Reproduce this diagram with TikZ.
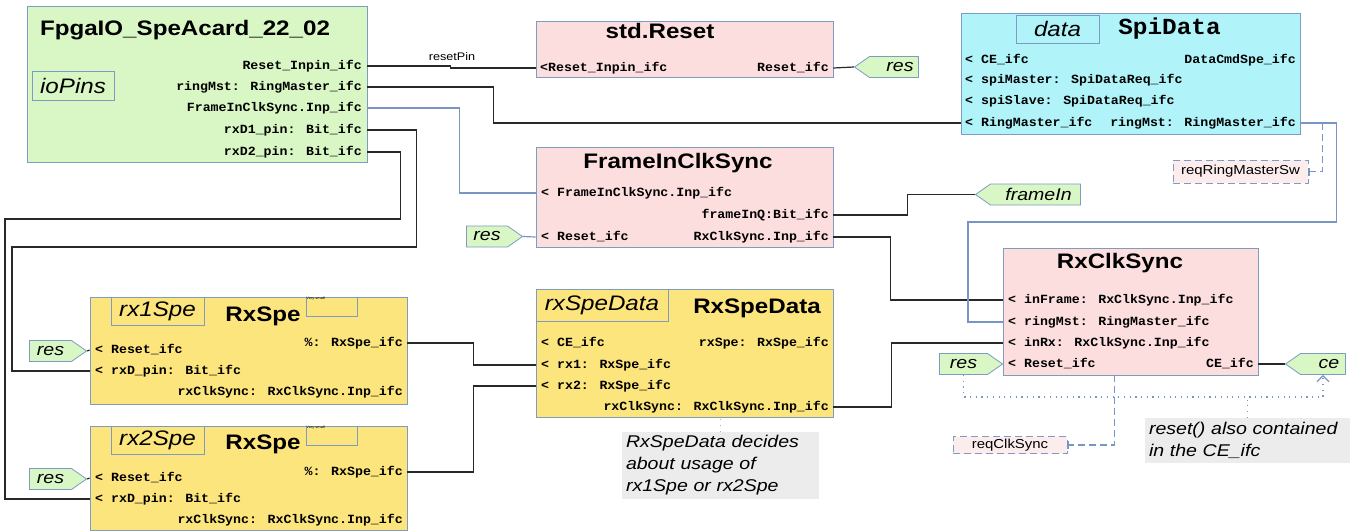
\documentclass[tikz,border=0pt]{standalone}
\usepackage{fontspec}
\setmainfont{Liberation Sans}[FakeStretch=1.15]
\newfontfamily\monofam{Liberation Mono}[FakeStretch=1.06]
\usetikzlibrary{shapes.symbols,arrows.meta}
\definecolor{bordc}{RGB}{125,155,195}
\definecolor{wirec}{RGB}{40,40,40}
\definecolor{bluec}{RGB}{120,150,195}
\definecolor{greenc}{RGB}{217,247,196}
\definecolor{pinkc}{RGB}{252,222,223}
\definecolor{cyanc}{RGB}{176,244,250}
\definecolor{yellowc}{RGB}{253,229,125}
\definecolor{notec}{RGB}{236,236,236}
\definecolor{reqc}{RGB}{252,236,236}
\newcommand\portfnt{\monofam\bfseries\fontsize{12.5}{14}\selectfont}
\begin{document}
\begin{tikzpicture}[x=1pt, y=-1pt,
  blk/.style={draw=bordc, line width=0.8pt, inner sep=0pt},
  namebox/.style={draw=bordc, line width=0.8pt, inner sep=0pt, font=\itshape\fontsize{21}{24}\selectfont},
  ttl/.style={inner sep=0pt, font=\bfseries\fontsize{21}{24}\selectfont},
  portlbl/.style={inner sep=0pt, font=\portfnt, text height=8.5pt, text depth=2pt},
  portl/.style={portlbl, anchor=west},
  portr/.style={portlbl, anchor=east},
  tag/.style={shape=signal, draw=bordc, fill=greenc, line width=0.8pt, inner sep=0pt, signal pointer angle=70, font=\itshape\fontsize{17}{20}\selectfont, minimum height=21pt},
  tagE/.style={tag, signal to=east},
  tagW/.style={tag, signal to=west},
  wire/.style={draw=wirec, line width=1.2pt},
  bwire/.style={draw=bluec, line width=1.2pt},
  longdash/.style={dash pattern=on 7pt off 4pt},
  dots/.style={line width=1.2pt, dash pattern=on 1.2pt off 4.5pt},
  req/.style={draw=bordc, dash pattern=on 7pt off 4pt, fill=reqc, line width=0.8pt, inner sep=0pt, font=\fontsize{13}{15}\selectfont},
  note/.style={fill=notec, inner xsep=4pt, inner ysep=0pt, align=left, font=\itshape\fontsize{17}{22}\selectfont}]
\useasboundingbox (0,0) rectangle (1354,531);

\node[blk, fill=greenc, minimum width=340pt, minimum height=156pt] (fpga) at (197,84) {};
\node[ttl] (fpgaTtl) at (185,30) {FpgaIO\_SpeAcard\_22\_02};
\node[namebox, minimum width=82pt, minimum height=29pt] (ioPins) at (73,85.5) {ioPins};
\node[portr] (fpgaReset) at (362,66) {Reset\_Inpin\_ifc};
\node[portr] (fpgaRing) at (362,87) {ringMst: RingMaster\_ifc};
\node[portr] (fpgaFrame) at (362,108) {FrameInClkSync.Inp\_ifc};
\node[portr] (fpgaRxdA) at (362,130) {rxD1\_pin: Bit\_ifc};
\node[portr] (fpgaRxdB) at (362,152) {rxD2\_pin: Bit\_ifc};

\node[blk, fill=pinkc, minimum width=297pt, minimum height=56pt] (std) at (684.5,49) {};
\node[ttl] (stdTtl) at (660,31) {std.Reset};
\node[portl] (stdIn) at (540,68) {<Reset\_Inpin\_ifc};
\node[portr] (stdOut) at (829,68) {Reset\_ifc};
\node[tagW, minimum width=64pt] (resStd) at (894,67) {\hspace{12pt}res};
\node[inner sep=0pt, font=\fontsize{11}{13}\selectfont] (resetPinLbl) at (452,57) {resetPin};

\node[blk, fill=cyanc, minimum width=339pt, minimum height=121pt] (spi) at (1130.5,73.5) {};
\node[namebox, minimum width=83pt, minimum height=28pt] (spiName) at (1057.5,29) {data};
\node[inner sep=0pt, font=\monofam\bfseries\fontsize{23}{26}\selectfont] (spiTtl) at (1169.5,29) {SpiData};
\node[portl] (spiCe) at (965,60) {< CE\_ifc};
\node[portr] (spiCmd) at (1296,60) {DataCmdSpe\_ifc};
\node[portl] (spiMst) at (965,80) {< spiMaster: SpiDataReq\_ifc};
\node[portl] (spiSlv) at (965,101) {< spiSlave: SpiDataReq\_ifc};
\node[portl] (spiRingIn) at (965,123) {< RingMaster\_ifc};
\node[portr] (spiRingOut) at (1296,123) {ringMst: RingMaster\_ifc};
\node[req, minimum width=135pt, minimum height=23pt] (reqRing) at (1240.5,171.5) {reqRingMasterSw};

\node[blk, fill=pinkc, minimum width=297pt, minimum height=100pt] (fic) at (684.5,197) {};
\node[ttl] (ficTtl) at (678,163) {FrameInClkSync};
\node[portl] (ficIn) at (541,193) {< FrameInClkSync.Inp\_ifc};
\node[portr] (ficQ) at (829,215) {frameInQ:Bit\_ifc};
\node[portl] (ficReset) at (541,237) {< Reset\_ifc};
\node[portr] (ficOut) at (829,237) {RxClkSync.Inp\_ifc};
\node[tagE, minimum width=56pt] (resFic) at (487,236.5) {res\hspace{8pt}};
\node[tagW, minimum width=105pt] (frameInTag) at (1035.5,194.5) {\hspace{6pt}frameIn};

\node[blk, fill=pinkc, minimum width=255pt, minimum height=127pt] (rxc) at (1130.5,311.5) {};
\node[ttl] (rxcTtl) at (1120,263) {RxClkSync};
\node[portl] (rxcFrame) at (1008,300) {< inFrame: RxClkSync.Inp\_ifc};
\node[portl] (rxcRing) at (1008,322) {< ringMst: RingMaster\_ifc};
\node[portl] (rxcRx) at (1008,343) {< inRx: RxClkSync.Inp\_ifc};
\node[portl] (rxcReset) at (1008,364) {< Reset\_ifc};
\node[portr] (rxcCe) at (1254,364) {CE\_ifc};
\node[tagE, minimum width=63pt] (resRxc) at (963.5,364) {res\hspace{10pt}};
\node[tagW, minimum width=60pt] (ceTag) at (1323,364) {\hspace{12pt}ce};
\node[req, minimum width=114pt, minimum height=17pt] (reqClk) at (1010,445) {reqClkSync\hspace{14pt}};
\node[note, text width=197pt, minimum height=45pt] (noteCe) at (1247.5,440.5) {reset() also contained\\in the CE\_ifc};

\node[blk, fill=yellowc, minimum width=297pt, minimum height=128pt] (rsd) at (684.5,353) {};
\node[namebox, minimum width=132pt, minimum height=32pt] (rsdName) at (602,305) {rxSpeData};
\node[ttl] (rsdTtl) at (757,308) {RxSpeData};
\node[portl] (rsdCe) at (541,343) {< CE\_ifc};
\node[portr] (rsdOut) at (829,343) {rxSpe: RxSpe\_ifc};
\node[portl] (rsdRxA) at (541,365) {< rx1: RxSpe\_ifc};
\node[portl] (rsdRxB) at (541,386) {< rx2: RxSpe\_ifc};
\node[portr] (rsdClk) at (829,407) {rxClkSync: RxClkSync.Inp\_ifc};
\node[note, text width=189pt, minimum height=67pt] (noteRsd) at (720.5,465.5) {RxSpeData decides\\about usage of\\rx1Spe or rx2Spe};

\node[blk, fill=yellowc, minimum width=317pt, minimum height=107pt] (rxa) at (248.5,350.5) {};
\node[namebox, minimum width=93pt, minimum height=28pt] (rxaName) at (157.5,311) {rx1Spe};
\node[ttl] (rxaTtl) at (263,316) {RxSpe};
\node[blk, minimum width=51pt, minimum height=19pt] (rxaSmall) at (331.5,306.5) {};
\node[anchor=north west, inner sep=0.5pt, font=\fontsize{3.5}{4}\selectfont] (rxaSmallTxt) at (rxaSmall.north west) {Very small};
\node[portr] (rxaOut) at (403,343) {\%: RxSpe\_ifc};
\node[portl] (rxaReset) at (95,350) {< Reset\_ifc};
\node[portl] (rxaRxd) at (95,371) {< rxD\_pin: Bit\_ifc};
\node[portr] (rxaClk) at (403,392) {rxClkSync: RxClkSync.Inp\_ifc};
\node[tagE, minimum width=57pt] (resRxa) at (50.5,351) {res\hspace{10pt}};

\node[blk, fill=yellowc, minimum width=317pt, minimum height=104pt] (rxb) at (248.5,478.5) {};
\node[namebox, minimum width=93pt, minimum height=28pt] (rxbName) at (157.5,440) {rx2Spe};
\node[ttl] (rxbTtl) at (263,444) {RxSpe};
\node[blk, minimum width=51pt, minimum height=19pt] (rxbSmall) at (331.5,435.5) {};
\node[anchor=north west, inner sep=0.5pt, font=\fontsize{3.5}{4}\selectfont] (rxbSmallTxt) at (rxbSmall.north west) {Very small};
\node[portr] (rxbOut) at (403,472) {\%: RxSpe\_ifc};
\node[portl] (rxbReset) at (95,478) {< Reset\_ifc};
\node[portl] (rxbRxd) at (95,499) {< rxD\_pin: Bit\_ifc};
\node[portr] (rxbClk) at (403,520) {rxClkSync: RxClkSync.Inp\_ifc};
\node[tagE, minimum width=57pt] (resRxb) at (50.5,479) {res\hspace{10pt}};

\draw[wire] (fpga.east |- fpgaReset) -- ++(83,0) |- (std.west |- stdIn);
\draw[wire] (std.east |- stdOut) -- (resStd.west);
\draw[wire] (fpga.east |- fpgaRing) -- ++(126,0) |- (spi.west |- spiRingIn);
\draw[bwire] (fpga.east |- fpgaFrame) -- ++(92,0) |- (fic.west |- ficIn);
\draw[wire] (fpga.east |- fpgaRxdA) -- ++(49,0) |- (12,247) |- (rxa.west |- rxaRxd);
\draw[wire] (fpga.east |- fpgaRxdB) -- ++(33,0) |- (5,219) |- (rxb.west |- rxbRxd);
\draw[bwire] (resFic.east) -- (fic.west |- ficReset);
\draw[wire] (fic.east |- ficQ) -- ++(74,0) |- (frameInTag.west);
\draw[wire] (fic.east |- ficOut) -- ++(57,0) |- (rxc.west |- rxcFrame);
\draw[bwire] (spi.east |- spiRingOut) -- ++(36,0) |- (968,222) |- (rxc.west |- rxcRing);
\draw[bwire, longdash, -{Bar[width=8pt]}] (spi.east |- spiRingOut) ++(22,0) |- (reqRing.east);
\draw[wire] (rsd.east |- rsdClk) -- ++(58,0) |- (rxc.west |- rxcRx);
\draw[bwire] (resRxc.east) -- (rxc.west |- rxcReset);
\draw[wire] (rxc.east |- rxcCe) -- (ceTag.west);
\draw[bwire, dots, -{Straight Barb[length=6pt, width=12pt]}] (resRxc.south) -- ++(0,22) -| (ceTag.south);
\draw[bwire, dots] (noteCe.north) -- ++(0,-22);
\draw[bwire, longdash, -{Bar[width=8pt]}] (rxc.south west) ++(112,0) |- (reqClk.east);
\draw[gray!60, dots] (noteRsd.north) -- ++(0,-15);
\draw[wire] (rxa.east |- rxaOut) -- ++(66,0) |- (rsd.west |- rsdRxA);
\draw[wire] (rxb.east |- rxbOut) -- ++(66,0) |- (rsd.west |- rsdRxB);
\draw[wire] (resRxa.east) -- (rxa.west |- rxaReset);
\draw[wire] (resRxb.east) -- (rxb.west |- rxbReset);
\end{tikzpicture}
\end{document}
